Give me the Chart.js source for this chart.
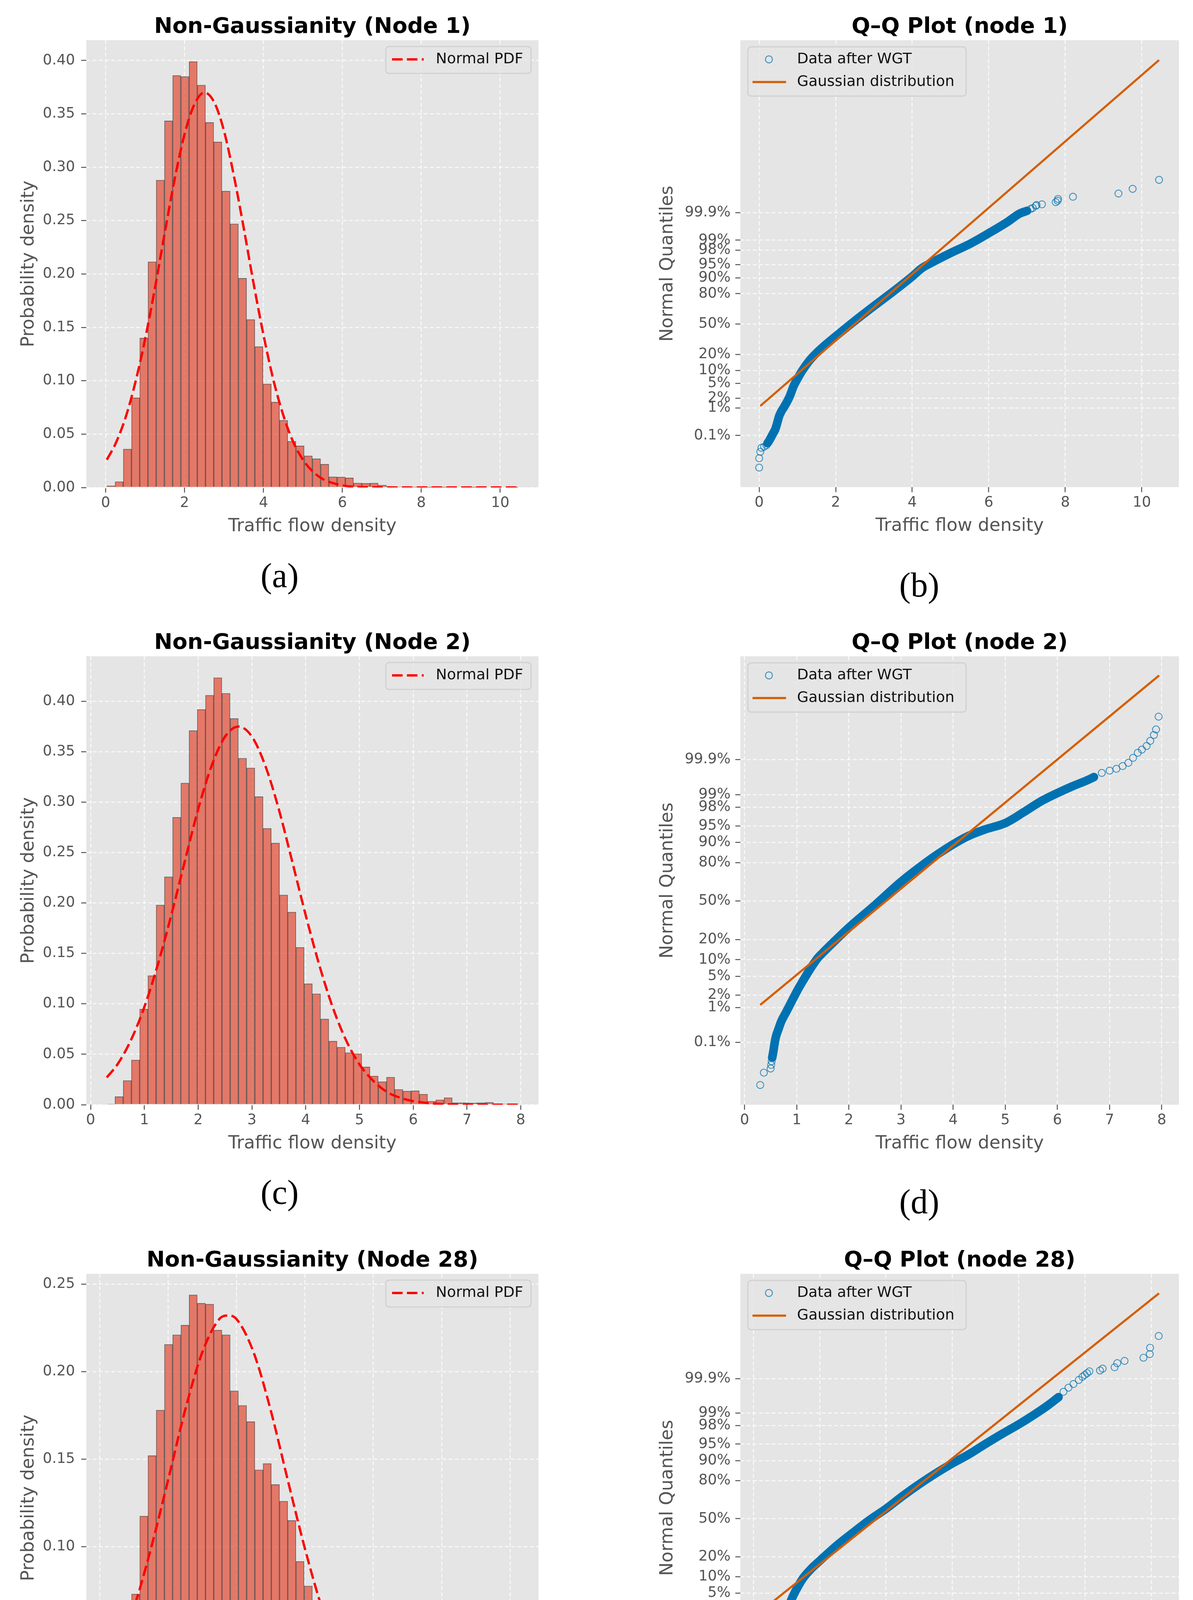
<!DOCTYPE html>
<html>
<head>
<meta charset="utf-8">
<script src="https://cdn.jsdelivr.net/npm/chart.js@4.4.1/dist/chart.umd.min.js"></script>
<style>
  html, body { margin: 0; padding: 0; background: #ffffff; }
  body { width: 3055px; height: 4735px; position: relative; overflow: hidden; }
  canvas { position: absolute; }
  .tag { position: absolute; font-family: "Liberation Serif", serif; font-size: 88px; line-height: 1;
         color: #000; transform: translate(-50%, -50%); }
</style>
</head>
<body>
<canvas id="histA"></canvas>
<canvas id="qqB"></canvas>
<canvas id="histC"></canvas>
<canvas id="qqD"></canvas>
<canvas id="histE"></canvas>
<canvas id="qqF"></canvas>
<div class="tag" style="left:716px;top:1474px">(a)</div>
<div class="tag" style="left:2354px;top:1498px">(b)</div>
<div class="tag" style="left:716px;top:3053px">(c)</div>
<div class="tag" style="left:2354px;top:3077px">(d)</div>
<div class="tag" style="left:715px;top:4634px">(e)</div>
<div class="tag" style="left:2353px;top:4658px">(f)</div>
<script>
// ---- data ----

// histogram ranges (first and last bin edge) and bar heights, 50 bins each
const hist1Range = [0.03, 10.45];
const hist1Density = [
  0.0016, 0.0055, 0.036, 0.084, 0.140, 0.2115, 0.288, 0.3435, 0.386, 0.385,
  0.399, 0.377, 0.342, 0.3237, 0.2777, 0.247, 0.196, 0.1574, 0.132, 0.097,
  0.080, 0.063, 0.0433, 0.039, 0.0297, 0.027, 0.0218, 0.010, 0.0098, 0.009,
  0.0042, 0.004, 0.0042, 0.0023, 0.001, 0.0004, 0.0003, 0.0002, 0.0002, 0.0001,
  0.0001, 0.0001, 0, 0, 0.0001, 0, 0, 0.0001, 0, 0.0001
];
const hist2Range = [0.3, 7.95];
const hist2Density = [
  0.0005, 0.008, 0.024, 0.0443, 0.0948, 0.128, 0.198, 0.226, 0.285, 0.319,
  0.371, 0.392, 0.406, 0.4235, 0.408, 0.383, 0.3436, 0.334, 0.3055, 0.274,
  0.2595, 0.208, 0.191, 0.156, 0.120, 0.110, 0.085, 0.063, 0.057, 0.0516,
  0.0505, 0.0374, 0.0284, 0.0228, 0.0273, 0.0152, 0.0135, 0.0138, 0.0104, 0.0035,
  0.0048, 0.0069, 0.002, 0.002, 0.0017, 0.002, 0.0024, 0.001, 0.0007, 0.0003
];
const hist3Range = [0.21, 12.23];
const hist3Density = [
  0.007, 0.0135, 0.0348, 0.073, 0.1175, 0.152, 0.178, 0.2155, 0.221, 0.2265,
  0.2438, 0.239, 0.2385, 0.2237, 0.221, 0.189, 0.1807, 0.1714, 0.1439, 0.1475,
  0.1355, 0.126, 0.115, 0.0916, 0.0776, 0.0639, 0.0569, 0.0482, 0.0386, 0.0386,
  0.0309, 0.0237, 0.0171, 0.0135, 0.0102, 0.008, 0.0076, 0.0042, 0.0042, 0.0024,
  0.0016, 0.0006, 0.0002, 0.0001, 0.0001, 0.0002, 0, 0.0001, 0.0002, 0.0001
];

// dashed "Normal PDF" curves
const pdf1X = [0.03, 0.25, 0.5, 0.75, 1, 1.25, 1.5, 1.75, 2, 2.25, 2.5, 2.75, 3, 3.25, 3.5,
  3.75, 4, 4.25, 4.5, 4.75, 5, 5.25, 5.5, 6, 6.5, 7, 8, 9, 10.45];
const pdf1Y = [0.026, 0.041, 0.065, 0.098, 0.139, 0.187, 0.239, 0.289, 0.331, 0.359, 0.370, 0.361, 0.334, 0.292, 0.243,
  0.191, 0.143, 0.101, 0.068, 0.043, 0.026, 0.015, 0.008, 0.002, 0.0004, 0.0001, 0, 0, 0];
const pdf2X = [0.3, 0.5, 0.75, 1, 1.25, 1.5, 1.75, 2, 2.25, 2.5, 2.75, 3, 3.25, 3.5,
  3.75, 4, 4.25, 4.5, 4.75, 5, 5.25, 5.5, 5.75, 6, 6.5, 7, 7.95];
const pdf2Y = [0.027, 0.040, 0.064, 0.097, 0.139, 0.188, 0.241, 0.293, 0.336, 0.365, 0.375, 0.365, 0.336, 0.293,
  0.241, 0.188, 0.139, 0.097, 0.064, 0.040, 0.024, 0.013, 0.007, 0.0035, 0.0008, 0.0001, 0];
const pdf3X = [0.21, 0.5, 1, 1.5, 2, 2.5, 3, 3.5, 3.75, 4, 4.5, 5, 5.5, 6, 6.5, 7, 7.5, 8,
  8.5, 9, 9.5, 10, 11, 12.23];
const pdf3Y = [0.028, 0.039, 0.065, 0.099, 0.138, 0.178, 0.211, 0.230, 0.232, 0.230, 0.211, 0.178, 0.138, 0.099,
  0.065, 0.039, 0.022, 0.011, 0.005, 0.0022, 0.0009, 0.0003, 0, 0];

// Q-Q plots: [traffic flow density, normal quantile (z)]
const qq1Low = [[0.0, -3.98], [0.0, -3.72], [0.03, -3.54], [0.06, -3.43], [0.13, -3.40], [0.19, -3.36]];
const qq1Band = [[0.22, -3.30], [0.27, -3.22], [0.32, -3.12], [0.36, -3.04], [0.42, -2.92], [0.47, -2.75],
  [0.52, -2.56], [0.58, -2.42], [0.65, -2.30], [0.72, -2.17], [0.80, -2.00], [0.90, -1.72], [1.00, -1.52],
  [1.12, -1.30], [1.30, -1.03], [1.50, -0.80], [1.75, -0.56], [2.00, -0.34], [2.50, 0.09], [3.00, 0.50],
  [3.50, 0.90], [4.00, 1.32], [4.25, 1.55], [4.50, 1.70], [5.00, 1.97], [5.50, 2.22], [6.00, 2.52],
  [6.50, 2.84], [6.80, 3.06], [7.00, 3.14]];
const qq1High = [[7.09, 3.19], [7.15, 3.22], [7.23, 3.28], [7.25, 3.30], [7.39, 3.32], [7.75, 3.38],
  [7.80, 3.42], [7.81, 3.47], [8.20, 3.53], [9.39, 3.62], [9.76, 3.75], [10.45, 4.00]];
const qq1Fit = [[0.03, -2.27], [10.45, 7.32]];

const qq2Low = [[0.30, -4.02], [0.37, -3.75], [0.50, -3.66], [0.51, -3.58], [0.52, -3.50]];
const qq2Band = [[0.53, -3.42], [0.55, -3.30], [0.57, -3.15], [0.60, -2.97], [0.65, -2.80], [0.70, -2.64],
  [0.80, -2.42], [0.90, -2.20], [1.00, -1.98], [1.10, -1.78], [1.25, -1.50], [1.40, -1.25], [1.50, -1.13],
  [1.75, -0.85], [2.00, -0.58], [2.50, -0.09], [3.00, 0.42], [3.50, 0.86], [3.70, 1.02], [4.00, 1.24],
  [4.27, 1.41], [4.60, 1.56], [5.01, 1.71], [5.35, 1.94], [5.70, 2.19], [6.00, 2.36], [6.27, 2.50],
  [6.57, 2.64], [6.70, 2.71]];
const qq2High = [[6.85, 2.80], [7.00, 2.85], [7.13, 2.89], [7.25, 2.95], [7.36, 3.02], [7.45, 3.13],
  [7.54, 3.24], [7.62, 3.31], [7.71, 3.39], [7.78, 3.50], [7.85, 3.63], [7.89, 3.75], [7.94, 4.03]];
const qq2Fit = [[0.30, -2.27], [7.95, 4.93]];

const qq3Low = [[0.21, -4.03], [0.21, -3.77], [0.22, -3.60], [0.24, -3.50], [0.27, -3.42], [0.30, -3.33]];
const qq3Band = [[0.33, -3.24], [0.37, -3.10], [0.42, -2.92], [0.50, -2.76], [0.62, -2.56], [0.75, -2.38],
  [0.90, -2.18], [1.05, -1.95], [1.20, -1.70], [1.35, -1.49], [1.50, -1.31], [1.75, -1.10], [2.00, -0.93],
  [2.50, -0.60], [3.00, -0.31], [3.50, -0.03], [4.00, 0.22], [4.50, 0.50], [5.00, 0.76], [5.50, 1.00],
  [6.00, 1.22], [6.50, 1.42], [7.00, 1.65], [7.50, 1.87], [8.00, 2.08], [8.50, 2.31], [8.90, 2.51], [9.20, 2.68]];
const qq3High = [[9.35, 2.80], [9.50, 2.89], [9.65, 2.97], [9.81, 3.06], [9.92, 3.13], [9.99, 3.17],
  [10.06, 3.21], [10.13, 3.25], [10.45, 3.27], [10.53, 3.31], [10.89, 3.34], [10.97, 3.43], [11.19, 3.48],
  [11.76, 3.55], [11.95, 3.63], [11.96, 3.77], [12.22, 4.03]];
const qq3Fit = [[0.21, -2.05], [12.23, 4.97]];

// tick labels
const xTicks1 = [0, 2, 4, 6, 8, 10];
const xTicks2 = [0, 1, 2, 3, 4, 5, 6, 7, 8];
const xTicks3 = [0, 2, 4, 6, 8, 10, 12];
const densityTicks40 = [0, 0.05, 0.10, 0.15, 0.20, 0.25, 0.30, 0.35, 0.40];
const densityTicks25 = [0, 0.05, 0.10, 0.15, 0.20, 0.25];
const qqTickZ = [-3.09, -2.326, -2.054, -1.645, -1.282, -0.842, 0, 0.842, 1.282, 1.645, 2.054, 2.326, 3.09];
const qqTickLabels = ['0.1%', '1%', '2%', '5%', '10%', '20%', '50%', '80%', '90%', '95%', '98%', '99%', '99.9%'];

// ---- drawing ----

Chart.defaults.font.family = '"DejaVu Sans", sans-serif';
Chart.defaults.color = '#555555';

const GREY = '#555555';
const grid = { color: 'rgba(255,255,255,0.7)', lineWidth: 3, tickColor: GREY, tickWidth: 2.5, tickLength: 13, offset: false };
const border = { display: false, dash: [10, 6] };

function pairs(list) {
  return list.map(p => ({ x: p[0], y: p[1] }));
}

function binCenters(range, n) {
  const w = (range[1] - range[0]) / n;
  const out = [];
  for (let i = 0; i < n; i++) out.push(range[0] + w * (i + 0.5));
  return out;
}

// grey plot area, as in the ggplot style
const frameBg = {
  id: 'frameBg',
  beforeDraw(chart) {
    const { ctx, chartArea: a } = chart;
    ctx.save();
    ctx.fillStyle = '#E5E5E5';
    ctx.fillRect(a.left, a.top, a.right - a.left, a.bottom - a.top);
    ctx.restore();
  }
};

function roundBox(ctx, x, y, w, h, r) {
  ctx.beginPath();
  ctx.moveTo(x + r, y);
  ctx.lineTo(x + w - r, y);
  ctx.quadraticCurveTo(x + w, y, x + w, y + r);
  ctx.lineTo(x + w, y + h - r);
  ctx.quadraticCurveTo(x + w, y + h, x + w - r, y + h);
  ctx.lineTo(x + r, y + h);
  ctx.quadraticCurveTo(x, y + h, x, y + h - r);
  ctx.lineTo(x, y + r);
  ctx.quadraticCurveTo(x, y, x + r, y);
  ctx.closePath();
}

// matplotlib-like legend drawn inside the axes
function insideLegend(spec) {
  return {
    id: 'insideLegend',
    afterDraw(chart) {
      const { ctx, chartArea: a } = chart;
      const left = spec.anchor === 'right' ? a.right - spec.dx - spec.w : a.left + spec.dx;
      const top = a.top + spec.dy;
      ctx.save();
      roundBox(ctx, left, top, spec.w, spec.h, 10);
      ctx.fillStyle = 'rgba(229,229,229,0.8)';
      ctx.fill();
      ctx.strokeStyle = 'rgba(204,204,204,0.8)';
      ctx.lineWidth = 3;
      ctx.stroke();
      spec.items.forEach((item, i) => {
        const y = top + spec.rowY[i];
        ctx.setLineDash([]);
        if (item.kind === 'dash') {
          ctx.strokeStyle = '#FF0000';
          ctx.lineWidth = 6;
          ctx.setLineDash([27, 11]);
          ctx.beginPath(); ctx.moveTo(left + 16, y); ctx.lineTo(left + 97, y); ctx.stroke();
        } else if (item.kind === 'line') {
          ctx.strokeStyle = '#D55E00';
          ctx.lineWidth = 5.5;
          ctx.beginPath(); ctx.moveTo(left + 12, y); ctx.lineTo(left + 98, y); ctx.stroke();
        } else {
          ctx.strokeStyle = 'rgba(0,114,178,0.7)';
          ctx.lineWidth = 2.5;
          ctx.beginPath(); ctx.arc(left + 54, y, 9, 0, Math.PI * 2); ctx.stroke();
        }
        ctx.setLineDash([]);
        ctx.fillStyle = '#111111';
        ctx.font = '38px "DejaVu Sans"';
        ctx.textBaseline = 'middle';
        ctx.textAlign = 'left';
        ctx.fillText(item.label, left + spec.textX, y);
      });
      ctx.restore();
    }
  };
}

function xAxis(range, ticks, height) {
  return {
    type: 'linear', min: range[0], max: range[1], offset: false,
    afterBuildTicks: s => { s.ticks = ticks.map(v => ({ value: v })); },
    afterFit: s => { s.height = height; },
    ticks: { autoSkip: false, maxRotation: 0, padding: 5, font: { size: 37 }, color: GREY, callback: v => String(v) },
    grid: grid, border: border,
    title: { display: true, text: 'Traffic flow density', font: { size: 46 }, color: GREY,
             padding: { top: 0, bottom: height - 100 - 27.6 } }
  };
}

function titleOpts(text) {
  return { display: true, text: text, fullSize: false, color: '#000000',
           font: { size: 56, weight: 'bold' }, padding: { top: 35.4, bottom: 0.4 } };
}

function place(id, box) {
  const c = document.getElementById(id);
  c.width = box.w; c.height = box.h;
  c.style.left = box.left + 'px'; c.style.top = box.top + 'px';
  c.style.width = box.w + 'px'; c.style.height = box.h + 'px';
  return c;
}

function drawHist(id, box, title, range, density, pdfX, pdfY, xRange, xTicks, yMax, yTicks) {
  const canvas = place(id, box);
  const centers = binCenters(range, density.length);
  new Chart(canvas, {
    type: 'bar',
    data: {
      datasets: [
        {
          type: 'line', label: 'Normal PDF', order: 0,
          data: pdfX.map((x, i) => ({ x: x, y: pdfY[i] })),
          borderColor: '#FF0000', borderWidth: 6, borderDash: [27, 11],
          pointRadius: 0, cubicInterpolationMode: 'monotone'
        },
        {
          type: 'bar', label: 'Histogram', order: 1,
          data: centers.map((x, i) => ({ x: x, y: density[i] })),
          backgroundColor: 'rgba(226,74,51,0.7)', borderColor: 'rgba(0,0,0,0.55)', borderWidth: 1.5,
          barPercentage: 1, categoryPercentage: 1
        }
      ]
    },
    options: {
      responsive: false, animation: false, devicePixelRatio: 1, events: [],
      layout: { padding: { left: 0, top: 0, bottom: 0, right: box.padRight } },
      plugins: { legend: { display: false }, tooltip: { enabled: false }, title: titleOpts(title) },
      scales: {
        x: xAxis(xRange, xTicks, box.xAxisH),
        y: {
          type: 'linear', min: 0, max: yMax,
          afterBuildTicks: s => { s.ticks = yTicks.map(v => ({ value: v })); },
          afterFit: s => { s.width = box.yAxisW; },
          ticks: { autoSkip: false, padding: 16, font: { size: 37 }, color: GREY, callback: v => v.toFixed(2) },
          grid: grid, border: border,
          title: { display: true, text: 'Probability density', font: { size: 46 }, color: GREY,
                   padding: { top: 74 - 27.6, bottom: 0 } }
        }
      }
    },
    plugins: [frameBg, insideLegend({
      anchor: 'right', dx: 19, dy: 16, w: 372, h: 69, rowY: [33], textX: 128,
      items: [{ kind: 'dash', label: 'Normal PDF' }]
    })]
  });
}

function drawQQ(id, box, title, low, band, high, fit, xRange, xTicks, yRange) {
  const canvas = place(id, box);
  const circles = {
    showLine: false, pointRadius: 9, pointBorderWidth: 2.2,
    pointBorderColor: 'rgba(0,114,178,0.75)', pointBackgroundColor: 'rgba(0,0,0,0)', order: 2
  };
  new Chart(canvas, {
    type: 'scatter',
    data: {
      datasets: [
        { label: 'Gaussian distribution', data: pairs(fit), showLine: true, borderColor: '#D55E00',
          borderWidth: 5.5, pointRadius: 0, order: 0 },
        { label: 'Data after WGT', data: pairs(band), showLine: true, borderColor: '#0072B2',
          borderWidth: 22, borderCapStyle: 'round', borderJoinStyle: 'round',
          cubicInterpolationMode: 'monotone', pointRadius: 0, order: 1 },
        Object.assign({ label: 'lower tail', data: pairs(low) }, circles),
        Object.assign({ label: 'upper tail', data: pairs(high) }, circles)
      ]
    },
    options: {
      responsive: false, animation: false, devicePixelRatio: 1, events: [],
      layout: { padding: { left: 0, top: 0, bottom: 0, right: box.padRight } },
      plugins: { legend: { display: false }, tooltip: { enabled: false }, title: titleOpts(title) },
      scales: {
        x: xAxis(xRange, xTicks, box.xAxisH),
        y: {
          type: 'linear', min: yRange[0], max: yRange[1],
          afterBuildTicks: s => { s.ticks = qqTickZ.map(v => ({ value: v })); },
          afterFit: s => { s.width = box.yAxisW; },
          ticks: { autoSkip: false, padding: 12, font: { size: 37 }, color: GREY,
                   callback: (v, i) => qqTickLabels[i] },
          grid: grid, border: border,
          title: { display: true, text: 'Normal Quantiles', font: { size: 46 }, color: GREY,
                   padding: { top: 90 - 27.6, bottom: 0 } }
        }
      }
    },
    plugins: [frameBg, insideLegend({
      anchor: 'left', dx: 19, dy: 17, w: 559, h: 126, rowY: [32, 90], textX: 126,
      items: [{ kind: 'circle', label: 'Data after WGT' }, { kind: 'line', label: 'Gaussian distribution' }]
    })]
  });
}

// panel boxes: canvas position and size, axis sizes
const histBoxA = { left: 0, top: 0, w: 1420, h: 1398, yAxisW: 221, xAxisH: 150, padRight: 41 };
const histBoxC = { left: 0, top: 1577, w: 1420, h: 1401, yAxisW: 221, xAxisH: 150, padRight: 41 };
const histBoxE = { left: 0, top: 3158, w: 1420, h: 1400, yAxisW: 221, xAxisH: 150, padRight: 41 };
const qqBoxB = { left: 1620, top: 0, w: 1435, h: 1397, yAxisW: 276, xAxisH: 150, padRight: 36 };
const qqBoxD = { left: 1620, top: 1577, w: 1435, h: 1401, yAxisW: 276, xAxisH: 150, padRight: 36 };
const qqBoxF = { left: 1620, top: 3158, w: 1435, h: 1400, yAxisW: 276, xAxisH: 150, padRight: 36 };

window.onload = function () {
  drawHist('histA', histBoxA, 'Non-Gaussianity (Node 1)', hist1Range, hist1Density, pdf1X, pdf1Y,
           [-0.49, 10.97], xTicks1, 0.419, densityTicks40);
  drawHist('histC', histBoxC, 'Non-Gaussianity (Node 2)', hist2Range, hist2Density, pdf2X, pdf2Y,
           [-0.08, 8.33], xTicks2, 0.4447, densityTicks40);
  drawHist('histE', histBoxE, 'Non-Gaussianity (Node 28)', hist3Range, hist3Density, pdf3X, pdf3Y,
           [-0.39, 12.83], xTicks3, 0.2558, densityTicks25);
  drawQQ('qqB', qqBoxB, 'Q\u2013Q Plot (node 1)', qq1Low, qq1Band, qq1High, qq1Fit,
         [-0.49, 10.97], xTicks1, [-4.52, 7.87]);
  drawQQ('qqD', qqBoxD, 'Q\u2013Q Plot (node 2)', qq2Low, qq2Band, qq2High, qq2Fit,
         [-0.08, 8.33], xTicks2, [-4.45, 5.35]);
  drawQQ('qqF', qqBoxF, 'Q\u2013Q Plot (node 28)', qq3Low, qq3Band, qq3High, qq3Fit,
         [-0.39, 12.83], xTicks3, [-4.48, 5.40]);
};
</script>
</body>
</html>
